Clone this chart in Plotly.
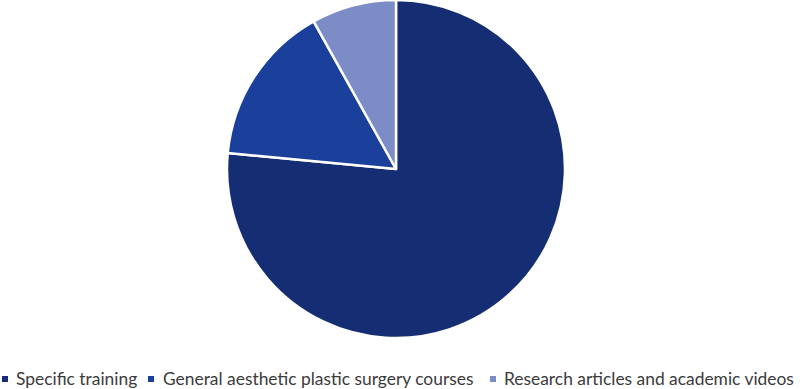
import plotly.graph_objects as go

labels = ["Specific training", "General aesthetic plastic surgery courses", "Research articles and academic videos"]
values = [76.5, 15.4, 8.1]
colors = ["#142d73", "#1b409c", "#7b8cc7"]

W, H = 800, 389
L, R, T, B = 0, 8, 0, 51
pw, ph = W - L - R, H - T - B

fig = go.Figure(go.Pie(
    labels=labels, values=values, sort=False, direction="clockwise", rotation=0,
    marker=dict(colors=colors, line=dict(color="white", width=2.5)),
    textinfo="none", hoverinfo="label+percent", showlegend=False,
))

# manual legend (markers + labels)
marker_px = [2, 148, 490]
text_px = [14, 161, 502]
cy = 378.5
def px_x(x):
    return (x - L) / pw
def px_y(y):
    return (ph - (y - T)) / ph

for i, lab in enumerate(labels):
    fig.add_shape(type="rect", xref="paper", yref="paper",
                  x0=px_x(marker_px[i]), x1=px_x(marker_px[i] + 6),
                  y0=px_y(cy + 3.5), y1=px_y(cy - 2.5),
                  fillcolor=colors[i], line=dict(width=0))
    fig.add_annotation(text=lab, xref="paper", yref="paper",
                       x=px_x(text_px[i]), y=px_y(cy), xanchor="left", yanchor="middle",
                       showarrow=False,
                       font=dict(family="Lato, Liberation Sans, sans-serif", size=17.4, color="#3b3b3b"))

fig.update_layout(
    width=W, height=H,
    margin=dict(l=L, r=R, t=T, b=B),
    paper_bgcolor="white",
)
fig.write_html("out.html", config={"displayModeBar": False},
               post_script="document.body.style.margin='0';document.body.style.overflow='hidden';")
